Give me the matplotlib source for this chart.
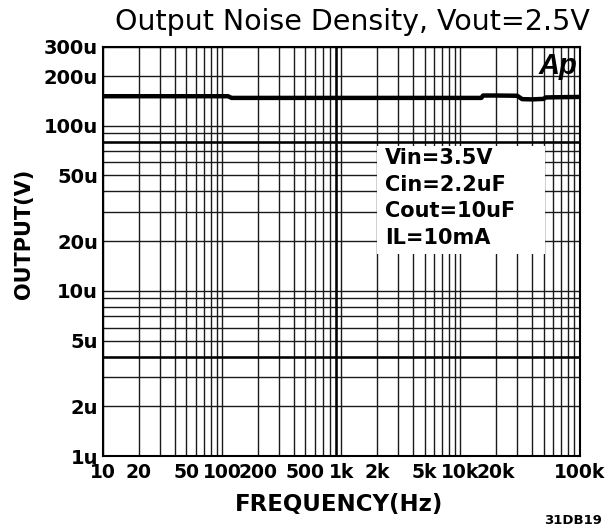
import numpy as np
import matplotlib
matplotlib.use("Agg")
import matplotlib.pyplot as plt
from matplotlib.ticker import LogLocator, NullFormatter
from matplotlib.patches import Rectangle

# measured noise curve (Hz, uV)
freq = [10, 20, 50, 100, 112, 120, 200, 500, 1000, 2000, 5000, 10000,
        15000, 15500, 20000, 30000, 33000, 40000, 50000, 52000, 70000, 100000]
noise_uv = [151, 151, 151, 151, 151, 147.5, 147.5, 147.5, 147.5, 147.5, 147.5, 147.5,
            147.5, 152.5, 152.5, 152, 145, 144.5, 145.5, 148.5, 149, 149.5]

x_ticks = [10, 20, 50, 100, 200, 500, 1000, 2000, 5000, 10000, 20000, 100000]
x_labels = ["10", "20", "50", "100", "200", "500", "1k", "2k", "5k", "10k", "20k", "100k"]
y_ticks_uv = [1, 2, 5, 10, 20, 50, 100, 200, 300]
y_labels = ["1u", "2u", "5u", "10u", "20u", "50u", "100u", "200u", "300u"]

conditions = ["Vin=3.5V", "Cin=2.2uF", "Cout=10uF", "IL=10mA"]

# grid lines that came out heavier in the scan
heavy_x = [900]
heavy_y_uv = [4, 80]

plt.rcParams['font.family'] = ['DejaVu Sans']

fig = plt.figure(figsize=(6.16, 5.28), dpi=100)
ax = fig.add_axes([103 / 616, 1 - 456 / 528, 476.5 / 616, 409 / 528])

ax.set_xscale('log')
ax.set_yscale('log')
ax.set_xlim(10, 100000)
ax.set_ylim(1e-6, 300e-6)

ax.set_xticks(x_ticks, x_labels)
ax.set_yticks([v * 1e-6 for v in y_ticks_uv], y_labels)
ax.xaxis.set_minor_locator(LogLocator(base=10, subs=np.arange(1, 10), numticks=20))
ax.yaxis.set_minor_locator(LogLocator(base=10, subs=np.arange(1, 10), numticks=20))
ax.xaxis.set_minor_formatter(NullFormatter())
ax.yaxis.set_minor_formatter(NullFormatter())
ax.tick_params(which='both', length=0)
ax.tick_params(axis='x', pad=5, labelsize=13.5)
ax.tick_params(axis='y', pad=3.6, labelsize=14)
for lab in ax.get_xticklabels() + ax.get_yticklabels():
    lab.set_fontweight('bold')

ax.grid(which='both', color='#1a1a1a', linewidth=1.0, zorder=1)
ax.set_axisbelow(True)
for f in heavy_x:
    ax.axvline(f, color='black', linewidth=1.8, zorder=1.5)
for v in heavy_y_uv:
    ax.axhline(v * 1e-6, color='black', linewidth=1.8, zorder=1.5)

for s in ax.spines.values():
    s.set_linewidth(1.5)
    s.set_color('black')

ax.plot(freq, [v * 1e-6 for v in noise_uv], color='black', linewidth=3.2, zorder=4)

# white condition box
ax.add_patch(Rectangle(((377 - 103) / 476.5, (456 - 254) / 409), 168 / 476.5, 108 / 409,
                       transform=ax.transAxes, facecolor='white', edgecolor='none', zorder=3))
for i, line in enumerate(conditions):
    ax.text((385 - 103) / 476.5, (456 - 158 - i * 26.7) / 409, line,
            transform=ax.transAxes, ha='left', va='center',
            fontsize=15, fontweight='bold', zorder=5)

ax.text((577 - 103) / 476.5, (456 - 66) / 409, "Ap", transform=ax.transAxes,
        ha='right', va='center', fontsize=21, fontweight='heavy', fontstyle='italic',
        family='Liberation Sans', zorder=5)

fig.text(352 / 616, 1 - 22 / 528, "Output Noise Density, Vout=2.5V",
         ha='center', va='center', fontsize=20.5)
fig.text(24 / 616, 1 - 234 / 528, "OUTPUT(V)", rotation=90,
         ha='center', va='center', fontsize=15, fontweight='bold')
fig.text(339 / 616, 1 - 505 / 528, "FREQUENCY(Hz)",
         ha='center', va='center', fontsize=16.5, fontweight='bold')
fig.text(573 / 616, 1 - 520 / 528, "31DB19",
         ha='center', va='center', fontsize=9.5, fontweight='bold')

fig.savefig("out.png", dpi=100)
